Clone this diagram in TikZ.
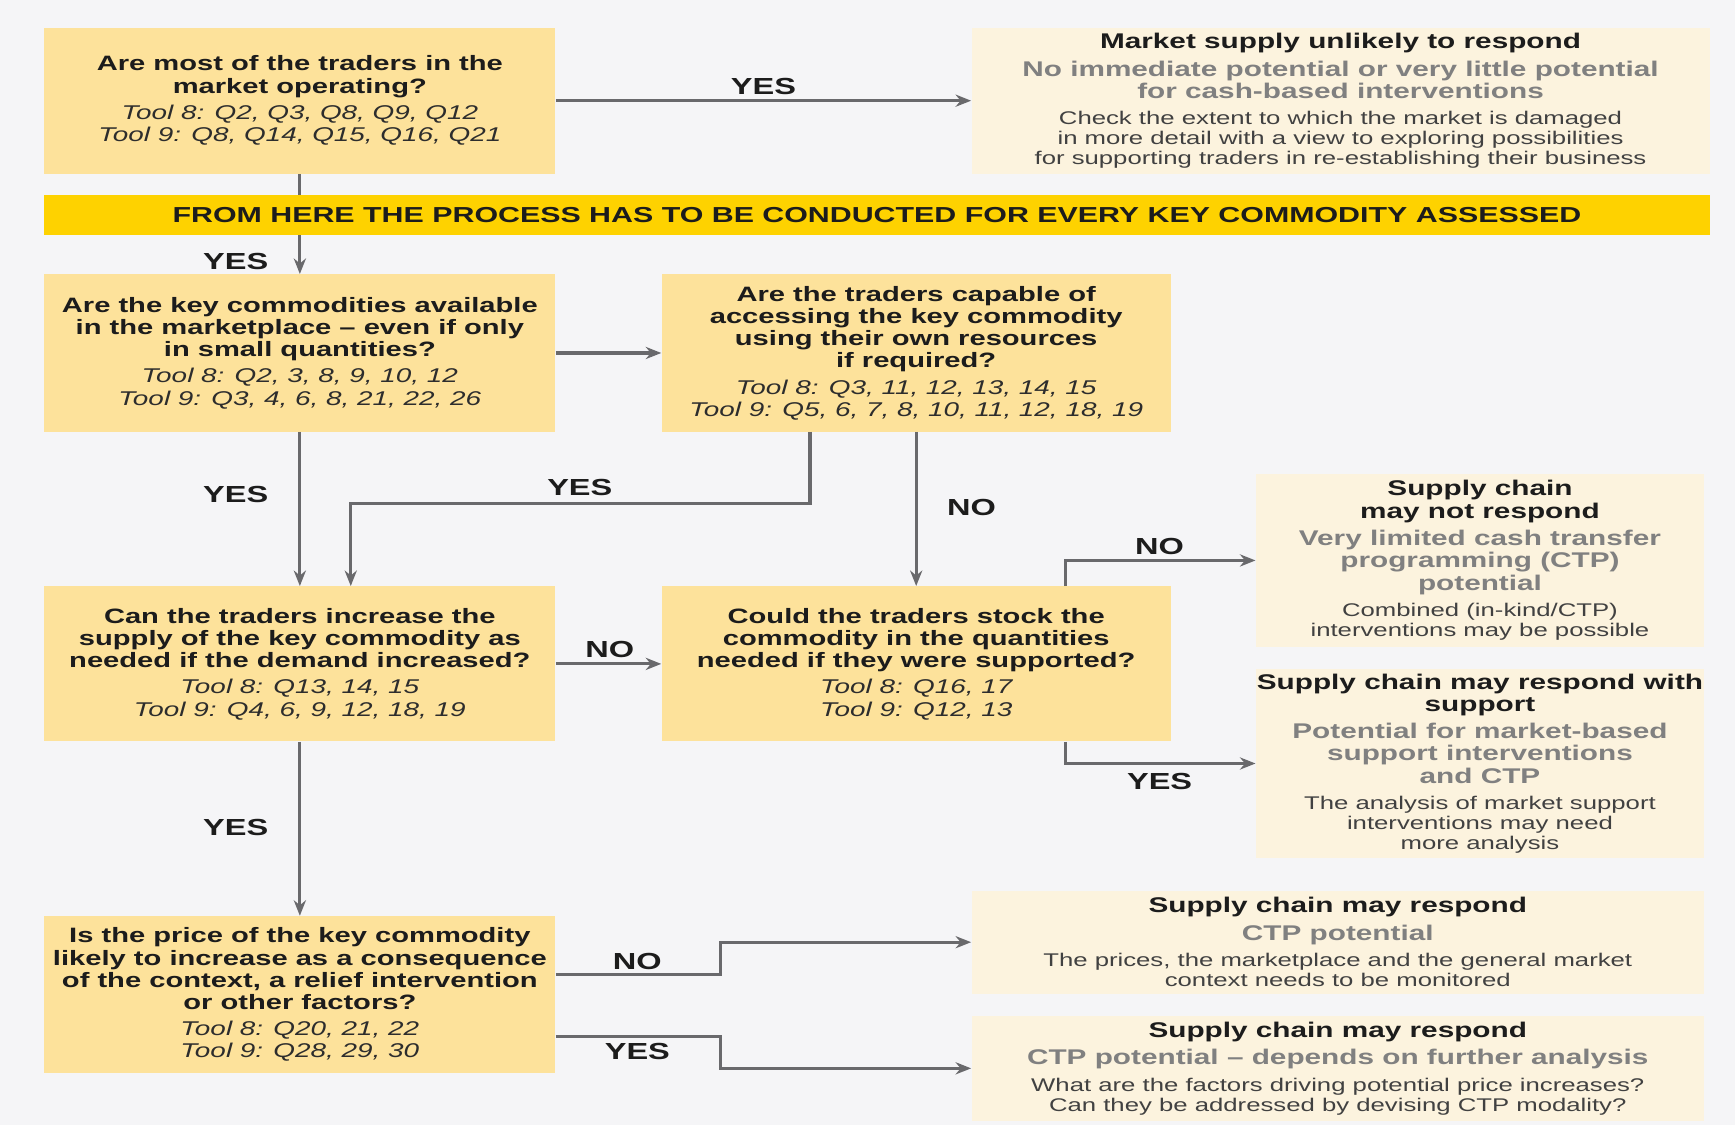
\documentclass[tikz,border=0pt]{standalone}
\usepackage{fontspec}
\setmainfont{Liberation Sans}[FakeStretch=1.4]
\usetikzlibrary{arrows.meta,calc}
\definecolor{bgc}{RGB}{245,245,247}
\definecolor{qfill}{RGB}{253,226,155}
\definecolor{ofill}{RGB}{252,243,222}
\definecolor{band}{RGB}{254,210,0}
\definecolor{linec}{RGB}{105,105,108}
\definecolor{txt}{RGB}{28,28,28}
\definecolor{gtxt}{RGB}{128,128,128}
\definecolor{rtxt}{RGB}{65,65,65}
\definecolor{ttxt}{RGB}{45,45,45}
\newcommand\fxq{\fontsize{9.4}{10}\selectfont\bfseries\color{txt}}
\newcommand\fxo{\fontsize{9.6}{10}\selectfont\bfseries\color{txt}}
\newcommand\fxg{\fontsize{9.6}{10}\selectfont\bfseries\color{gtxt}}
\newcommand\fxt{\fontsize{9}{10}\selectfont\itshape\color{ttxt}}
\newcommand\fxr{\fontsize{8.3}{9}\selectfont\color{rtxt}}
\begin{document}
\begin{tikzpicture}[x=0.5pt,y=-0.5pt,
  qbox/.style={fill=qfill, draw=none, inner sep=0pt, align=center, font=\fontsize{9.4}{10}\selectfont},
  obox/.style={fill=ofill, draw=none, inner sep=0pt, align=center, font=\fontsize{9.6}{10}\selectfont},
  conn/.style={draw=linec, line width=1.4pt, -{Stealth[length=7pt,width=5.5pt]}},
  lbl/.style={font=\fontsize{10.5}{11}\selectfont\bfseries, text=txt, inner sep=0pt}]
\useasboundingbox (0,0) rectangle (1568,1017);
\fill[bgc] (0,0) rectangle (1568,1017);

% question boxes
\node[qbox, minimum width=231pt, minimum height=66pt] (q1) at (271,91)
  {{\fxq Are most of the traders in the}\\{\fxq market operating?}\\[2pt]
   {\fxt Tool 8: Q2, Q3, Q8, Q9, Q12}\\{\fxt Tool 9: Q8, Q14, Q15, Q16, Q21}};
\node[qbox, minimum width=231pt, minimum height=71pt] (q2) at (271,319)
  {{\fxq Are the key commodities available}\\{\fxq in the marketplace – even if only}\\{\fxq in small quantities?}\\[2pt]
   {\fxt Tool 8: Q2, 3, 8, 9, 10, 12}\\{\fxt Tool 9: Q3, 4, 6, 8, 21, 22, 26}};
\node[qbox, minimum width=230pt, minimum height=71pt] (q3) at (828,319)
  {{\fxq Are the traders capable of}\\{\fxq accessing the key commodity}\\{\fxq using their own resources}\\{\fxq if required?}\\[2pt]
   {\fxt Tool 8: Q3, 11, 12, 13, 14, 15}\\{\fxt Tool 9: Q5, 6, 7, 8, 10, 11, 12, 18, 19}};
\node[qbox, minimum width=231pt, minimum height=70pt] (q4) at (271,600)
  {{\fxq Can the traders increase the}\\{\fxq supply of the key commodity as}\\{\fxq needed if the demand increased?}\\[2pt]
   {\fxt Tool 8: Q13, 14, 15}\\{\fxt Tool 9: Q4, 6, 9, 12, 18, 19}};
\node[qbox, minimum width=230pt, minimum height=70pt] (q5) at (828,600)
  {{\fxq Could the traders stock the}\\{\fxq commodity in the quantities}\\{\fxq needed if they were supported?}\\[2pt]
   {\fxt Tool 8: Q16, 17}\\{\fxt Tool 9: Q12, 13}};
\node[qbox, minimum width=231pt, minimum height=71pt] (q6) at (271,899)
  {{\fxq Is the price of the key commodity}\\{\fxq likely to increase as a consequence}\\{\fxq of the context, a relief intervention}\\{\fxq or other factors?}\\[2pt]
   {\fxt Tool 8: Q20, 21, 22}\\{\fxt Tool 9: Q28, 29, 30}};

% outcome boxes
\node[obox, minimum width=333.5pt, minimum height=66pt] (o1) at (1211.5,91)
  {{\fxo Market supply unlikely to respond}\\[2.5pt]
   {\fxg No immediate potential or very little potential}\\{\fxg for cash-based interventions}\\[2pt]
   {\fxr Check the extent to which the market is damaged}\\[-1pt]
   {\fxr in more detail with a view to exploring possibilities}\\[-1pt]
   {\fxr for supporting traders in re-establishing their business}};
\node[obox, minimum width=202.5pt, minimum height=78.5pt] (o2) at (1337.5,506.5)
  {{\fxo Supply chain}\\{\fxo may not respond}\\[2.5pt]
   {\fxg Very limited cash transfer}\\{\fxg programming (CTP)}\\{\fxg potential}\\[2pt]
   {\fxr Combined (in-kind/CTP)}\\[-1pt]{\fxr interventions may be possible}};
\node[obox, minimum width=202.5pt, minimum height=85pt] (o3) at (1337.5,690)
  {{\fxo Supply chain may respond with}\\{\fxo support}\\[2.5pt]
   {\fxg Potential for market-based}\\{\fxg support interventions}\\{\fxg and CTP}\\[2pt]
   {\fxr The analysis of market support}\\[-1pt]{\fxr interventions may need}\\[-1pt]{\fxr more analysis}};
\node[obox, minimum width=331pt, minimum height=46.5pt] (o4) at (1209,851.5)
  {{\fxo Supply chain may respond}\\[2.5pt]
   {\fxg CTP potential}\\[2pt]
   {\fxr The prices, the marketplace and the general market}\\[-1pt]
   {\fxr context needs to be monitored}};
\node[obox, minimum width=331pt, minimum height=47.5pt] (o5) at (1209,965.5)
  {{\fxo Supply chain may respond}\\[2.5pt]
   {\fxg CTP potential – depends on further analysis}\\[2pt]
   {\fxr What are the factors driving potential price increases?}\\[-1pt]
   {\fxr Can they be addressed by devising CTP modality?}};

% connectors
\draw[conn] (q1.east) -- (o1.west);
\draw[conn] (q1.south) -- (q2.north);
\draw[conn] (q2.east) -- (q3.west);
\draw[conn] (q2.south) -- (q4.north);
\draw[conn] ($(q3.south)+(-96,0)$) -- ++(0,65) -| ($(q4.north)+(46,0)$);
\draw[conn] (q3.south) -- (q5.north);
\draw[conn] (q4.east) -- (q5.west);
\draw[conn] ($(q5.north)+(135,0)$) |- (o2.west);
\draw[conn] ($(q5.south)+(135,0)$) |- (o3.west);
\draw[conn] (q4.south) -- (q6.north);
\draw[conn] ($(q6.east)+(0,-18)$) -- ++(149,0) |- (o4.west);
\draw[conn] ($(q6.east)+(0,38)$) -- ++(149,0) |- (o5.west);

% banner (drawn over the connector)
\node[fill=band, minimum width=752.5pt, minimum height=18pt, inner sep=0pt,
      font=\fontsize{9.8}{10}\selectfont\bfseries, text=txt] (band) at (792.5,194)
  {FROM HERE THE PROCESS HAS TO BE CONDUCTED FOR EVERY KEY COMMODITY ASSESSED};

% labels
\node[lbl] (l1) at (690,78) {YES};
\node[lbl] (l2) at (213,236) {YES};
\node[lbl] (l3) at (213,447) {YES};
\node[lbl] (l4) at (524,441) {YES};
\node[lbl] (l5) at (878,459) {NO};
\node[lbl] (l6) at (551,587) {NO};
\node[lbl] (l7) at (1048,494) {NO};
\node[lbl] (l8) at (1048,706) {YES};
\node[lbl] (l9) at (213,748) {YES};
\node[lbl] (l10) at (576,869) {NO};
\node[lbl] (l11) at (576,950) {YES};
\end{tikzpicture}
\end{document}
